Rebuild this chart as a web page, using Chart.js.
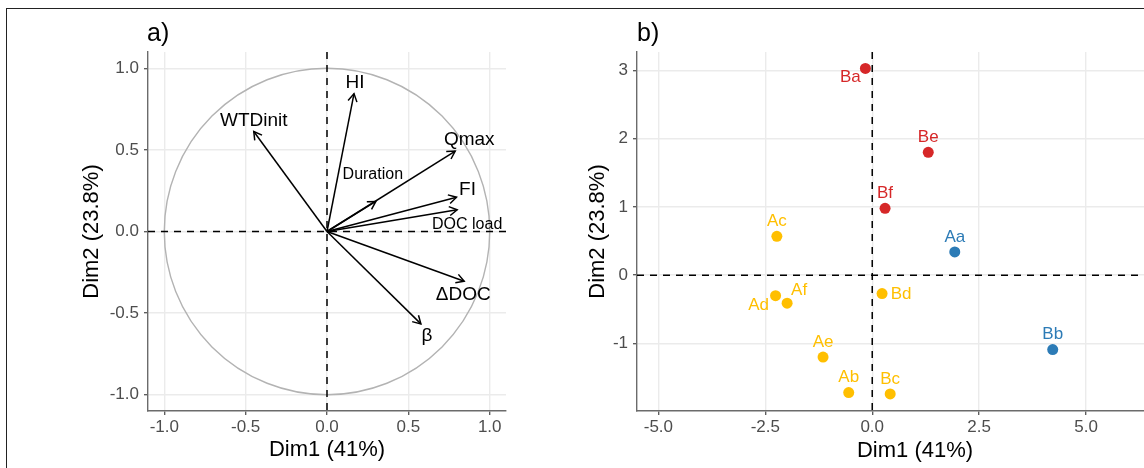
<!DOCTYPE html>
<html>
<head>
<meta charset="utf-8">
<script src="https://cdn.jsdelivr.net/npm/chart.js@4.4.1/dist/chart.umd.min.js"></script>
<style>
  html, body { margin: 0; padding: 0; background: #fff; overflow: hidden; }
  #wrap { position: relative; width: 1144px; height: 468px; overflow: hidden; }
  #frame { position: absolute; left: 6px; top: 8px; width: 1200px; height: 520px;
           border-top: 1px solid #222; border-left: 1px solid #222; }
  #varsChart { position: absolute; left: 0; top: 0; }
  #indChart { position: absolute; left: 560px; top: 0; }
</style>
</head>
<body>
<div id="wrap">
  <div id="frame"></div>
  <canvas id="varsChart" width="560" height="468"></canvas>
  <canvas id="indChart" width="660" height="468"></canvas>
</div>
<script>
// a) variables (correlation circle)
const varNames = ['WTDinit', 'HI', 'Qmax', 'Duration', 'FI', 'DOC load', 'ΔDOC', 'β'];
const varDim1 = [-0.45, 0.166, 0.788, 0.30, 0.796, 0.80, 0.843, 0.577];
const varDim2 = [0.613, 0.845, 0.493, 0.184, 0.21, 0.133, -0.305, -0.566];

// b) individuals
const indNames = ['Aa', 'Ab', 'Ac', 'Ad', 'Ae', 'Af', 'Ba', 'Bb', 'Bc', 'Bd', 'Be', 'Bf'];
const indDim1 = [1.93, -0.55, -2.23, -2.26, -1.15, -1.99, -0.16, 4.22, 0.42, 0.23, 1.31, 0.30];
const indDim2 = [0.34, -1.72, 0.57, -0.30, -1.20, -0.41, 3.03, -1.09, -1.74, -0.27, 1.80, 0.98];
const indCluster = [2, 1, 1, 1, 1, 1, 3, 2, 1, 1, 3, 3];

// tick labels
const varTicks = [-1.0, -0.5, 0.0, 0.5, 1.0];
const indTicksX = [-5.0, -2.5, 0.0, 2.5, 5.0];
const indTicksY = [-1, 0, 1, 2, 3];

const xTitle = 'Dim1 (41%)';
const yTitle = 'Dim2 (23.8%)';

// label placement (pixel nudges, like ggrepel did)
const varLabelNudge = {
  'WTDinit': [0, -11, 19], 'HI': [1, -11, 19], 'Qmax': [14, -11, 19],
  'Duration': [-3, -27, 16], 'FI': [11, -7, 19], 'DOC load': [10, 15, 16],
  'ΔDOC': [-1, 13, 19], 'β': [6, 12, 19]
};
const indLabelNudge = {
  'Ba': [-15, 9], 'Ad': [-17, 10], 'Af': [12, -13], 'Bd': [19, 1]
};
const clusterColors = { 1: '#FFBF00', 2: '#2C7BB6', 3: '#D62728' };

Chart.defaults.font.family = "'Liberation Sans', Arial, sans-serif";
Chart.defaults.animation = false;
Chart.defaults.events = [];

function axisStyle(ticks, fmt, titleText, titlePad, isX, fixedSize) {
  return {
    type: 'linear',
    afterBuildTicks: s => { s.ticks = ticks.map(v => ({ value: v })); },
    afterFit: s => { if (isX) s.height = fixedSize; else s.width = fixedSize; },
    grid: { color: '#EBEBEB', lineWidth: 1.4, tickColor: '#555', tickLength: 4, tickWidth: 1.3 },
    border: { display: true, color: '#6b6b6b', width: 1.4 },
    ticks: { color: '#4D4D4D', font: { size: 17 }, padding: isX ? 2 : 5,
             maxRotation: 0, autoSkip: false, callback: fmt },
    title: { display: true, text: titleText, color: '#000', font: { size: 22 }, padding: titlePad }
  };
}

function drawZeroLines(ctx, area, cx, cy) {
  ctx.save();
  ctx.strokeStyle = '#000';
  ctx.lineWidth = 1.5;
  ctx.setLineDash([7, 6]);
  ctx.beginPath();
  ctx.moveTo(area.left, cy); ctx.lineTo(area.right, cy);
  ctx.moveTo(cx, area.top); ctx.lineTo(cx, area.bottom);
  ctx.stroke();
  ctx.restore();
}

function drawTag(ctx, text, x) {
  ctx.save();
  ctx.fillStyle = '#000';
  ctx.font = "25px 'Liberation Sans', Arial, sans-serif";
  ctx.textAlign = 'left';
  ctx.textBaseline = 'alphabetic';
  ctx.fillText(text, x, 41);
  ctx.restore();
}

// ---- panel a
const varsOverlay = {
  id: 'varsOverlay',
  beforeDatasetsDraw(chart) {
    const { ctx, chartArea, scales: { x, y } } = chart;
    const cx = x.getPixelForValue(0), cy = y.getPixelForValue(0);
    const rx = x.getPixelForValue(1) - cx, ry = cy - y.getPixelForValue(1);
    ctx.save();
    ctx.strokeStyle = '#B3B3B3';
    ctx.lineWidth = 1.4;
    ctx.beginPath();
    ctx.ellipse(cx, cy, rx, ry, 0, 0, 2 * Math.PI);
    ctx.stroke();
    ctx.restore();
    drawZeroLines(ctx, chartArea, cx, cy);
  },
  afterDatasetsDraw(chart) {
    const { ctx, scales: { x, y } } = chart;
    const ox = x.getPixelForValue(0), oy = y.getPixelForValue(0);
    ctx.save();
    ctx.strokeStyle = '#000';
    ctx.fillStyle = '#000';
    ctx.lineWidth = 1.5;
    ctx.textAlign = 'center';
    ctx.textBaseline = 'middle';
    varNames.forEach((name, i) => {
      const px = x.getPixelForValue(varDim1[i]), py = y.getPixelForValue(varDim2[i]);
      const ang = Math.atan2(py - oy, px - ox);
      const len = 9, spread = Math.PI / 6;
      ctx.beginPath();
      ctx.moveTo(px - len * Math.cos(ang - spread), py - len * Math.sin(ang - spread));
      ctx.lineTo(px, py);
      ctx.lineTo(px - len * Math.cos(ang + spread), py - len * Math.sin(ang + spread));
      ctx.stroke();
      const [dx, dy, fs] = varLabelNudge[name];
      ctx.font = fs + "px 'Liberation Sans', Arial, sans-serif";
      ctx.fillText(name, px + dx, py + dy);
    });
    ctx.restore();
  },
  afterDraw(chart) { drawTag(chart.ctx, 'a)', chart.chartArea.left - 1); }
};

new Chart(document.getElementById('varsChart'), {
  type: 'scatter',
  data: {
    datasets: varNames.map((name, i) => ({
      label: name,
      data: [{ x: 0, y: 0 }, { x: varDim1[i], y: varDim2[i] }],
      showLine: true,
      borderColor: '#000',
      borderWidth: 1.5,
      pointRadius: 0
    }))
  },
  options: {
    responsive: false,
    layout: { padding: { top: 52, right: 54, left: 0, bottom: 0 } },
    plugins: { legend: { display: false }, tooltip: { enabled: false } },
    scales: {
      x: Object.assign(axisStyle(varTicks, v => v.toFixed(1), xTitle, { top: 0, bottom: 5 }, true, 57),
                       { min: -1.1, max: 1.1 }),
      y: Object.assign(axisStyle(varTicks, v => v.toFixed(1), yTitle, { top: 79, bottom: 0 }, false, 148),
                       { min: -1.1, max: 1.1 })
    }
  },
  plugins: [varsOverlay]
});

// ---- panel b
const indOverlay = {
  id: 'indOverlay',
  beforeDatasetsDraw(chart) {
    const { ctx, chartArea, scales: { x, y } } = chart;
    drawZeroLines(ctx, chartArea, x.getPixelForValue(0), y.getPixelForValue(0));
  },
  afterDatasetsDraw(chart) {
    const { ctx, scales: { x, y } } = chart;
    ctx.save();
    ctx.font = "17px 'Liberation Sans', Arial, sans-serif";
    ctx.textAlign = 'center';
    ctx.textBaseline = 'middle';
    indNames.forEach((name, i) => {
      const px = x.getPixelForValue(indDim1[i]), py = y.getPixelForValue(indDim2[i]);
      const [dx, dy] = indLabelNudge[name] || [0, -15];
      ctx.fillStyle = clusterColors[indCluster[i]];
      ctx.fillText(name, px + dx, py + dy);
    });
    ctx.restore();
  },
  afterDraw(chart) { drawTag(chart.ctx, 'b)', chart.chartArea.left); }
};

new Chart(document.getElementById('indChart'), {
  type: 'scatter',
  data: {
    datasets: [{
      label: 'individuals',
      data: indNames.map((n, i) => ({ x: indDim1[i], y: indDim2[i] })),
      pointRadius: 5.5,
      pointBorderWidth: 0,
      pointBackgroundColor: indCluster.map(c => clusterColors[c]),
      pointBorderColor: indCluster.map(c => clusterColors[c])
    }]
  },
  options: {
    responsive: false,
    layout: { padding: { top: 52, right: 27, left: 0, bottom: 0 } },
    plugins: { legend: { display: false }, tooltip: { enabled: false } },
    scales: {
      x: Object.assign(axisStyle(indTicksX, v => v.toFixed(1), xTitle, { top: 0, bottom: 4 }, true, 57),
                       { min: -5.5, max: 7.5 }),
      y: Object.assign(axisStyle(indTicksY, v => String(v), yTitle, { top: 25, bottom: 0 }, false, 77),
                       { min: -1.99, max: 3.27 })
    }
  },
  plugins: [indOverlay]
});
</script>
</body>
</html>
